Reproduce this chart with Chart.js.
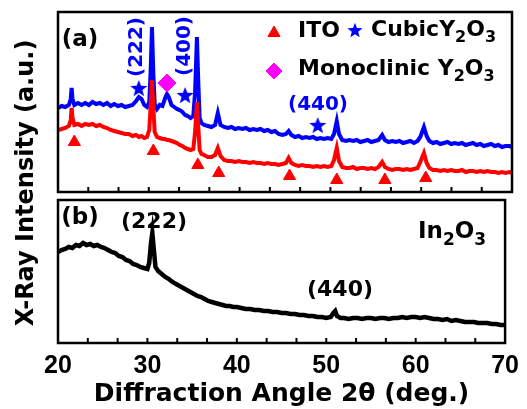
<!DOCTYPE html>
<html><head><meta charset="utf-8">
<script src="https://cdn.jsdelivr.net/npm/chart.js@4/dist/chart.umd.min.js"></script>
<style>
html,body{margin:0;padding:0;background:#fff;width:527px;height:409px;overflow:hidden}
canvas{position:absolute;left:0;top:0}
</style></head><body>
<canvas id="ca" width="527" height="409"></canvas>
<canvas id="cb" width="527" height="409"></canvas>
<script>
// ---------- data (panel a) ----------
const angleA = [20.0,20.4,20.8,21.2,21.4,21.5,21.6,21.8,22.2,22.6,23.0,23.4,23.8,24.2,24.6,25.0,25.4,25.8,26.2,26.6,27.0,27.4,27.8,28.2,28.6,28.9,29.2,29.5,29.8,30.05,30.2,30.35,30.5,30.65,30.9,31.2,31.5,31.8,32.0,32.2,32.5,32.8,33.1,33.4,33.7,34.0,34.3,34.6,34.9,35.1,35.3,35.45,35.6,35.8,36.1,36.5,36.9,37.3,37.6,37.9,38.3,38.7,39.1,39.5,39.9,40.3,40.7,41.1,41.5,41.9,42.3,42.7,43.1,43.5,43.9,44.3,44.7,45.1,45.4,45.7,46.1,46.5,46.9,47.3,47.7,48.1,48.5,48.9,49.3,49.7,50.1,50.4,50.7,50.95,51.3,51.7,52.1,52.5,52.9,53.3,53.7,54.1,54.5,54.9,55.3,55.7,56.0,56.4,56.8,57.2,57.6,58.0,58.4,58.8,59.2,59.6,59.9,60.3,60.6,60.9,61.3,61.7,62.1,62.5,62.9,63.3,63.7,64.1,64.5,64.9,65.3,65.7,66.1,66.5,66.9,67.3,67.7,68.1,68.5,68.9,69.3,69.7,70.0];
const y2o3OnIto = [84,86,85,87,93,104,93,87,89,87,89,87,90,88,89,87,89,86,88,86,87,85,86,87,91,95,93,87,85,90,120,165,118,88,83,87,86,94,98,95,87,85,83,82,80,77,76,74,76,100,155,110,74,69,67,66,65,67,79,67,65,64,65,63,64,63,64,62,63,62,63,61,62,60,61,58,57,58,61,57,55,56,54,55,54,55,53,54,53,54,53,58,71,58,52,51,52,51,52,50,51,52,50,51,52,57,52,50,51,50,51,49,50,51,49,51,55,65,56,51,49,50,48,49,50,48,49,48,49,47,48,49,47,48,46,47,48,46,47,45,46,46,45];
const itoOnly = [62,63,64,66,72,84,74,67,68,66,68,67,68,66,67,65,64,62,61,60,59,58,58,56,57,55,56,54,55,62,85,112,84,60,55,54,53,53,52,52,51,50,49,47,46,44,43,42,43,60,90,65,42,38,37,35,35,37,44,36,32,31,31,30,31,30,30,29,30,29,29,28,29,28,28,27,28,29,34,29,27,26,27,26,26,25,26,25,26,25,26,32,44,31,25,24,24,25,23,24,24,23,24,23,25,30,25,23,22,23,23,22,23,22,23,24,30,39,29,24,22,22,21,22,21,22,21,21,22,20,21,21,20,21,20,21,20,20,19,20,19,20,19];
// ---------- data (panel b) ----------
const angleB = [20.0,20.4,20.8,21.2,21.6,22.0,22.4,22.8,23.2,23.6,24.0,24.4,24.8,25.2,25.6,26.0,26.4,26.8,27.2,27.6,28.0,28.4,28.8,29.2,29.6,30.0,30.2,30.4,30.55,30.7,30.9,31.2,31.6,32.0,32.4,32.8,33.2,33.6,34.0,34.4,34.8,35.2,35.6,36.0,36.4,36.8,37.2,37.6,38.0,38.4,38.8,39.2,39.6,40.0,40.5,41.0,41.5,42.0,42.5,43.0,43.5,44.0,44.5,45.0,45.5,46.0,46.5,47.0,47.5,48.0,48.5,49.0,49.5,50.0,50.5,50.8,51.0,51.2,51.6,52.0,52.5,53.0,53.5,54.0,54.5,55.0,55.5,56.0,56.5,57.0,57.5,58.0,58.5,59.0,59.5,60.0,60.5,61.0,61.5,62.0,62.5,63.0,63.5,64.0,64.5,65.0,65.5,66.0,66.5,67.0,67.5,68.0,68.5,69.0,69.5,70.0];
const in2o3 = [91,93,94,96,95,98,97,100,98,99,97,98,96,95,93,91,90,87,86,83,82,79,78,76,75,74,80,100,110,95,76,72,69,66,64,61,59,57,55,53,51,49,47,46,44,42,41,40,39,38,37,37,36,36,35,34,34,33,33,32,32,31,31,30,30,29,29,28,28,27,27,26,26,25,26,30,32,27,25,25,24,25,25,24,25,25,24,25,25,24,25,25,26,25,26,26,25,26,25,24,24,23,24,22,23,22,21,21,21,20,20,20,19,19,18,18];
// ---------- phase markers (panel a) ----------
const itoMarkAngle = [21.8,30.5,35.4,37.7,45.5,50.7,56.0,60.5];
const itoMarkLevel = [50,41,27,19,16,12,12,14];
const cubicMarkAngle = [28.9,34.0,48.6];
const cubicMarkLevel = [104,97,67];
const monoMarkAngle = [32.0];
const monoMarkLevel = [109];
const xTickLabels = [20,30,40,50,60,70];

const BLUE = '#0000ff', RED = '#ff0000', MAG = '#ff00ff';
const TXT = "'DejaVu Sans', sans-serif";
const pts = (xs, ys) => xs.map((x, i) => ({x, y: ys[i]}));

function makeStar(size, color) {
  const c = document.createElement('canvas');
  c.width = c.height = size;
  const g = c.getContext('2d');
  g.fillStyle = color;
  g.beginPath();
  const R = size / 2, r = R * 0.42, cy = R * 1.1;
  for (let i = 0; i < 10; i++) {
    const a = -Math.PI / 2 + i * Math.PI / 5;
    const rr = i % 2 ? r : R;
    g.lineTo(R + rr * Math.cos(a), cy + rr * Math.sin(a));
  }
  g.closePath();
  g.fill();
  return c;
}
const starBig = makeStar(18, BLUE);
const starSmall = makeStar(16, BLUE);

const framePlugin = {
  id: 'frame',
  afterDatasetsDraw(chart) {
    const {ctx, chartArea: a, scales: {x}} = chart;
    ctx.save();
    ctx.strokeStyle = '#000';
    ctx.lineWidth = 2.5;
    ctx.strokeRect(a.left, a.top, a.right - a.left, a.bottom - a.top);
    ctx.lineWidth = 2;
    for (let k = 1; k < 15; k++) {
      const px = x.getPixelForValue(x.min + k * (x.max - x.min) / 15);
      ctx.beginPath();
      ctx.moveTo(px, a.bottom);
      ctx.lineTo(px, a.bottom - 5);
      ctx.stroke();
    }
    ctx.restore();
  }
};

function txt(ctx, s, x, y, size, color, align, rot) {
  ctx.save();
  ctx.font = 'bold ' + size + 'px ' + TXT;
  ctx.fillStyle = color;
  ctx.textAlign = align || 'center';
  ctx.textBaseline = 'middle';
  ctx.translate(x, y);
  if (rot) ctx.rotate(rot);
  ctx.fillText(s, 0, 0);
  ctx.restore();
}
// text with subscript parts: parts = [[text, isSub], ...], left aligned
function rich(ctx, parts, x, y, size, color) {
  ctx.save();
  ctx.fillStyle = color;
  ctx.textAlign = 'left';
  ctx.textBaseline = 'middle';
  let cx = x;
  for (const [s, sub] of parts) {
    const fs = sub ? Math.round(size * 0.72) : size;
    ctx.font = 'bold ' + fs + 'px ' + TXT;
    ctx.fillText(s, cx, sub ? y + size * 0.36 : y);
    cx += ctx.measureText(s).width + (sub ? 0 : 0);
  }
  ctx.restore();
}

const annotA = {
  id: 'annotA',
  afterDraw(chart) {
    const ctx = chart.ctx;
    txt(ctx, '(a)', 80, 40, 23, '#000');
    txt(ctx, '(222)', 137, 47, 20, BLUE, 'center', -Math.PI / 2);
    txt(ctx, '(400)', 185, 46, 20, BLUE, 'center', -Math.PI / 2);
    txt(ctx, '(440)', 318, 105, 20, BLUE);
    txt(ctx, 'ITO', 298, 31, 22, '#000', 'left');
    ctx.drawImage(starSmall, 355 - 8, 31 - 9);
    rich(ctx, [['CubicY', false], ['2', true], ['O', false], ['3', true]], 371, 30, 22, '#000');
    rich(ctx, [['Monoclinic Y', false], ['2', true], ['O', false], ['3', true]], 298, 69, 22, '#000');
    txt(ctx, 'X-Ray Intensity (a.u.)', 27, 183, 24, '#000', 'center', -Math.PI / 2);
    ctx.save();
    ctx.fillStyle = RED; ctx.strokeStyle = RED;
    Chart.helpers.drawPoint(ctx, {pointStyle: 'triangle', radius: 7, rotation: 0, borderWidth: 1}, 274, 33);
    ctx.fillStyle = MAG; ctx.strokeStyle = MAG;
    Chart.helpers.drawPoint(ctx, {pointStyle: 'rectRot', radius: 8, rotation: 0, borderWidth: 1}, 274, 71);
    ctx.restore();
  }
};

const annotB = {
  id: 'annotB',
  afterDraw(chart) {
    const ctx = chart.ctx;
    txt(ctx, '(b)', 80, 218, 23, '#000');
    txt(ctx, '(222)', 154, 222, 22, '#000');
    txt(ctx, '(440)', 340, 290, 22, '#000');
    rich(ctx, [['In', false], ['2', true], ['O', false], ['3', true]], 418, 232, 23, '#000');
  }
};

const lineDs = (label, data, color, order, w) => ({
  type: 'line', label, data, borderColor: color, backgroundColor: color,
  borderWidth: w, pointRadius: 0, tension: 0, order, fill: false
});

new Chart(document.getElementById('ca'), {
  type: 'line',
  data: {
    datasets: [
      {type: 'scatter', label: 'ITO', data: pts(itoMarkAngle, itoMarkLevel), pointStyle: 'triangle', pointRadius: 7, backgroundColor: RED, borderColor: RED, borderWidth: 1, order: 0},
      {type: 'scatter', label: 'Cubic Y2O3', data: pts(cubicMarkAngle, cubicMarkLevel), pointStyle: starBig, pointRadius: 9, order: 0},
      {type: 'scatter', label: 'Monoclinic Y2O3', data: pts(monoMarkAngle, monoMarkLevel), pointStyle: 'rectRot', pointRadius: 9, backgroundColor: MAG, borderColor: MAG, borderWidth: 1, order: 0},
      lineDs('ITO', pts(angleA, itoOnly), RED, 1, 4),
      lineDs('Y2O3/ITO', pts(angleA, y2o3OnIto), BLUE, 2, 4)
    ]
  },
  options: {
    responsive: false, animation: false, events: [],
    layout: {padding: {left: 58, right: 15, top: 12, bottom: 217}},
    plugins: {legend: {display: false}, tooltip: {enabled: false}},
    scales: {
      x: {type: 'linear', min: 20, max: 70, display: false},
      y: {type: 'linear', min: 0, max: 180, display: false}
    }
  },
  plugins: [framePlugin, annotA]
});

new Chart(document.getElementById('cb'), {
  type: 'line',
  data: {datasets: [lineDs('In2O3', pts(angleB, in2o3), '#000', 1, 4.5)]},
  options: {
    responsive: false, animation: false, events: [],
    layout: {padding: {left: 58, right: 15, top: 200, bottom: 0}},
    plugins: {legend: {display: false}, tooltip: {enabled: false}},
    scales: {
      x: {
        type: 'linear', min: 20, max: 70,
        afterBuildTicks: s => { s.ticks = xTickLabels.map(v => ({value: v})); },
        afterFit: s => { s.height = 66; },
        grid: {display: false, drawTicks: false},
        border: {display: false},
        ticks: {color: '#000', padding: 8, maxRotation: 0, autoSkip: false,
                font: {family: "'Liberation Sans', Arial, sans-serif", weight: 'bold', size: 25}},
        title: {display: true, text: 'Diffraction Angle 2\u03b8 (deg.)', color: '#000',
                font: {family: TXT, weight: 'bold', size: 25}, padding: {top: 0, bottom: 0}}
      },
      y: {type: 'linear', min: 0, max: 143, display: false}
    }
  },
  plugins: [framePlugin, annotB]
});
</script>
</body></html>
